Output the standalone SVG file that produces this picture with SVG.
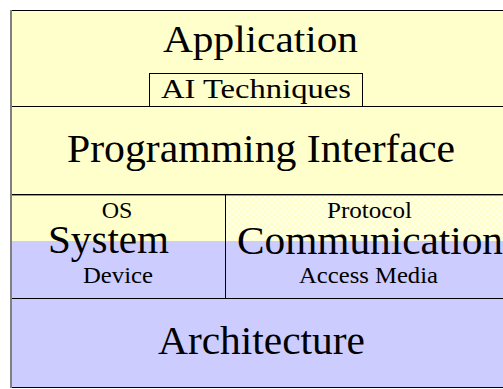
<svg xmlns="http://www.w3.org/2000/svg" width="503" height="389" viewBox="0 0 503 389">
<style>
text{font-family:'Liberation Serif','Times New Roman',serif;fill:#000;}
.big{font-size:40px;}
.sm{font-size:24px;}
.ln{stroke:#000;stroke-width:1;fill:none;}
</style>
<defs>
<pattern id="chk" width="6" height="6" patternUnits="userSpaceOnUse">
<rect width="6" height="6" fill="#FFFFE6"/>
<rect width="3" height="3" fill="#FFFFCC"/>
<rect x="3" y="3" width="3" height="3" fill="#FFFFCC"/>
</pattern>
</defs>
<rect width="503" height="389" fill="#fff"/>
<g id="application">
<rect x="11" y="10" width="501" height="97" fill="#FFFFCC"/>
<text x="260.5" y="52" font-size="38" text-anchor="middle" textLength="195" lengthAdjust="spacingAndGlyphs">Application</text>
</g>
<g id="ai-techniques">
<rect x="149.5" y="73.5" width="213" height="33" fill="#FFFFCC" stroke="#000" stroke-width="1"/>
<text x="256" y="98" font-size="27" text-anchor="middle" textLength="190" lengthAdjust="spacingAndGlyphs">AI Techniques</text>
</g>
<g id="programming-interface">
<rect x="11" y="107" width="501" height="88" fill="#FFFFCC"/>
<text class="big" x="261" y="162" text-anchor="middle" textLength="388" lengthAdjust="spacingAndGlyphs">Programming Interface</text>
</g>
<g id="system">
<rect x="11" y="195" width="214" height="46" fill="#FFFFCC"/>
<rect x="11" y="241" width="214" height="58" fill="#CCCCFF"/>
<text class="sm" x="117" y="218" text-anchor="middle">OS</text>
<text class="big" x="108.5" y="253" text-anchor="middle" textLength="121" lengthAdjust="spacingAndGlyphs">System</text>
<text class="sm" x="118" y="283" text-anchor="middle" textLength="70" lengthAdjust="spacingAndGlyphs">Device</text>
</g>
<g id="communication">
<rect x="225" y="195" width="287" height="46" fill="url(#chk)"/>
<rect x="225" y="241" width="287" height="58" fill="#CCCCFF"/>
<text class="sm" x="369.5" y="218" text-anchor="middle" textLength="85" lengthAdjust="spacingAndGlyphs">Protocol</text>
<text class="big" x="370" y="254" text-anchor="middle" textLength="266" lengthAdjust="spacingAndGlyphs">Communication</text>
<text class="sm" x="368.5" y="283" text-anchor="middle" textLength="139" lengthAdjust="spacingAndGlyphs">Access Media</text>
</g>
<g id="architecture">
<rect x="11" y="299" width="501" height="88" fill="#CCCCFF"/>
<text class="big" x="261.5" y="354" text-anchor="middle" textLength="207" lengthAdjust="spacingAndGlyphs">Architecture</text>
</g>
<g id="connectors">
<line class="ln" x1="11" y1="10.5" x2="512" y2="10.5"/>
<line class="ln" x1="11" y1="106.5" x2="512" y2="106.5"/>
<line class="ln" x1="11" y1="194.5" x2="512" y2="194.5"/>
<line x1="11" y1="195.5" x2="512" y2="195.5" stroke="#999" stroke-width="1"/>
<line class="ln" x1="225.5" y1="195" x2="225.5" y2="299"/>
<line class="ln" x1="11" y1="298.5" x2="512" y2="298.5"/>
<line class="ln" x1="11" y1="387.5" x2="512" y2="387.5"/>
<line x1="11" y1="10" x2="11" y2="388" stroke="#808080" stroke-width="2"/>
</g>
</svg>
